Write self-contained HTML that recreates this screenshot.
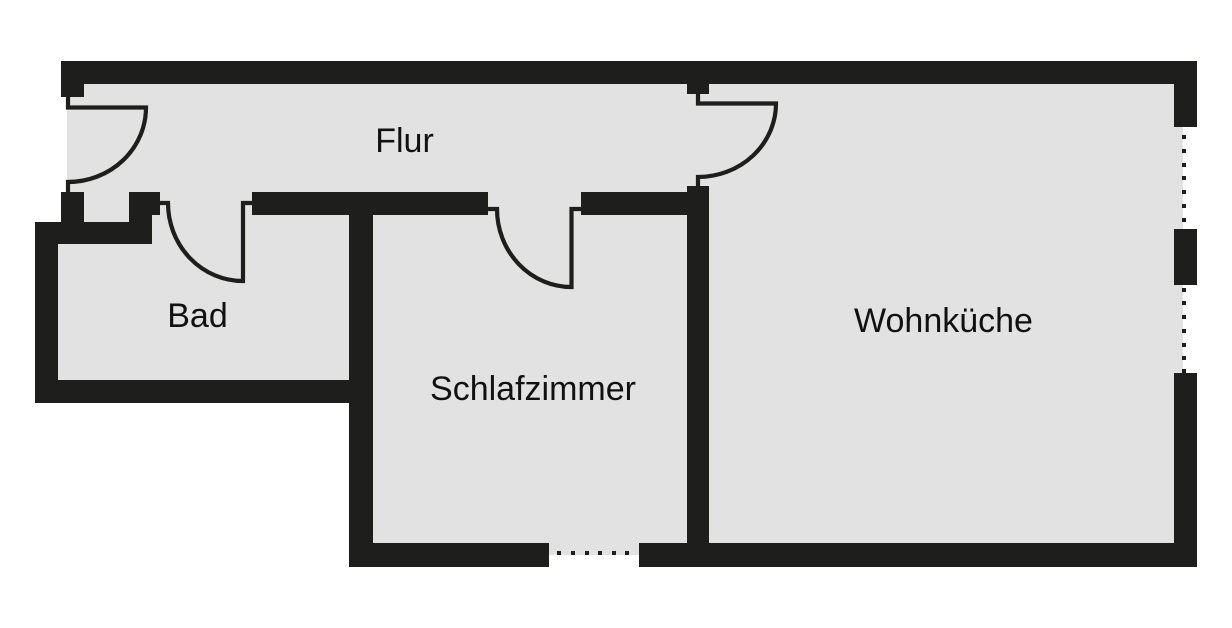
<!DOCTYPE html>
<html>
<head>
<meta charset="utf-8">
<style>
  html,body{margin:0;padding:0;background:#ffffff;}
  svg{display:block;}
  text{font-family:"Liberation Sans",sans-serif;font-size:34px;fill:#111;}
</style>
</head>
<body>
<svg width="1232" height="628" viewBox="0 0 1232 628" xmlns="http://www.w3.org/2000/svg">
  <rect x="0" y="0" width="1232" height="628" fill="#ffffff"/>
  <!-- gray floor areas -->
  <g fill="#e2e2e2">
    <rect x="67" y="84" width="1107" height="108"/>
    <rect x="84" y="192" width="1090" height="52"/>
    <rect x="58" y="222" width="291" height="158"/>
    <rect x="349" y="215" width="338" height="328"/>
    <rect x="687" y="84" width="487" height="459"/>
    <rect x="1174" y="127" width="9" height="246"/>
    <rect x="549" y="543" width="90" height="12"/>
  </g>
  <!-- walls -->
  <g fill="#1e1e1c">
    <rect x="61" y="61" width="1136" height="23"/>
    <rect x="61" y="84" width="23" height="13"/>
    <rect x="61" y="192" width="23" height="30"/>
    <rect x="35" y="222" width="117" height="22"/>
    <rect x="129" y="192" width="31" height="23"/>
    <rect x="129" y="192" width="23" height="52"/>
    <rect x="35" y="222" width="23" height="181"/>
    <rect x="35" y="380" width="338" height="23"/>
    <rect x="349" y="192" width="24" height="375"/>
    <rect x="252" y="192" width="236" height="23"/>
    <rect x="581" y="192" width="128" height="23"/>
    <rect x="687" y="186" width="22" height="381"/>
    <rect x="687" y="84" width="22" height="10"/>
    <rect x="349" y="543" width="200" height="24"/>
    <rect x="639" y="543" width="558" height="24"/>
    <rect x="1174" y="61" width="23" height="66"/>
    <rect x="1174" y="229" width="23" height="56"/>
    <rect x="1174" y="373" width="23" height="194"/>
  </g>
  <!-- window dots -->
  <g fill="#1e1e1c">
    <rect x="1182" y="135" width="4" height="4"/>
    <rect x="1182" y="149" width="4" height="4"/>
    <rect x="1182" y="163" width="4" height="4"/>
    <rect x="1182" y="176" width="4" height="4"/>
    <rect x="1182" y="190" width="4" height="4"/>
    <rect x="1182" y="204" width="4" height="4"/>
    <rect x="1182" y="218" width="4" height="4"/>
    <rect x="1182" y="288" width="4" height="4"/>
    <rect x="1182" y="301" width="4" height="4"/>
    <rect x="1182" y="315" width="4" height="4"/>
    <rect x="1182" y="329" width="4" height="4"/>
    <rect x="1182" y="343" width="4" height="4"/>
    <rect x="1182" y="356" width="4" height="4"/>
    <rect x="1182" y="369" width="4" height="4"/>
    <rect x="557" y="551" width="4" height="4"/>
    <rect x="571" y="551" width="4" height="4"/>
    <rect x="585" y="551" width="4" height="4"/>
    <rect x="598" y="551" width="4" height="4"/>
    <rect x="612" y="551" width="4" height="4"/>
    <rect x="625" y="551" width="4" height="4"/>
  </g>
  <!-- doors -->
  <g fill="none" stroke="#1e1e1c" stroke-width="4.2" stroke-linejoin="miter">
    <path d="M68,97 L68,107.5 L146,107.5 A78,74.5 0 0 1 68,182 L68,192"/>
    <path d="M698,94 L698,103.5 L776,103.5 A78,73.5 0 0 1 698,177 L698,186"/>
    <path d="M160,203 L168,203 A75,78 0 0 0 243,281 L243,203 L252,203"/>
    <path d="M488,209 L497,209 A74.5,78 0 0 0 571.5,287 L571.5,209 L581,209"/>
  </g>
  <!-- labels -->
  <text x="404.5" y="152" text-anchor="middle">Flur</text>
  <text x="197.5" y="327" text-anchor="middle">Bad</text>
  <text x="533" y="400" text-anchor="middle">Schlafzimmer</text>
  <text x="943.5" y="332" text-anchor="middle">Wohnküche</text>
</svg>
</body>
</html>
